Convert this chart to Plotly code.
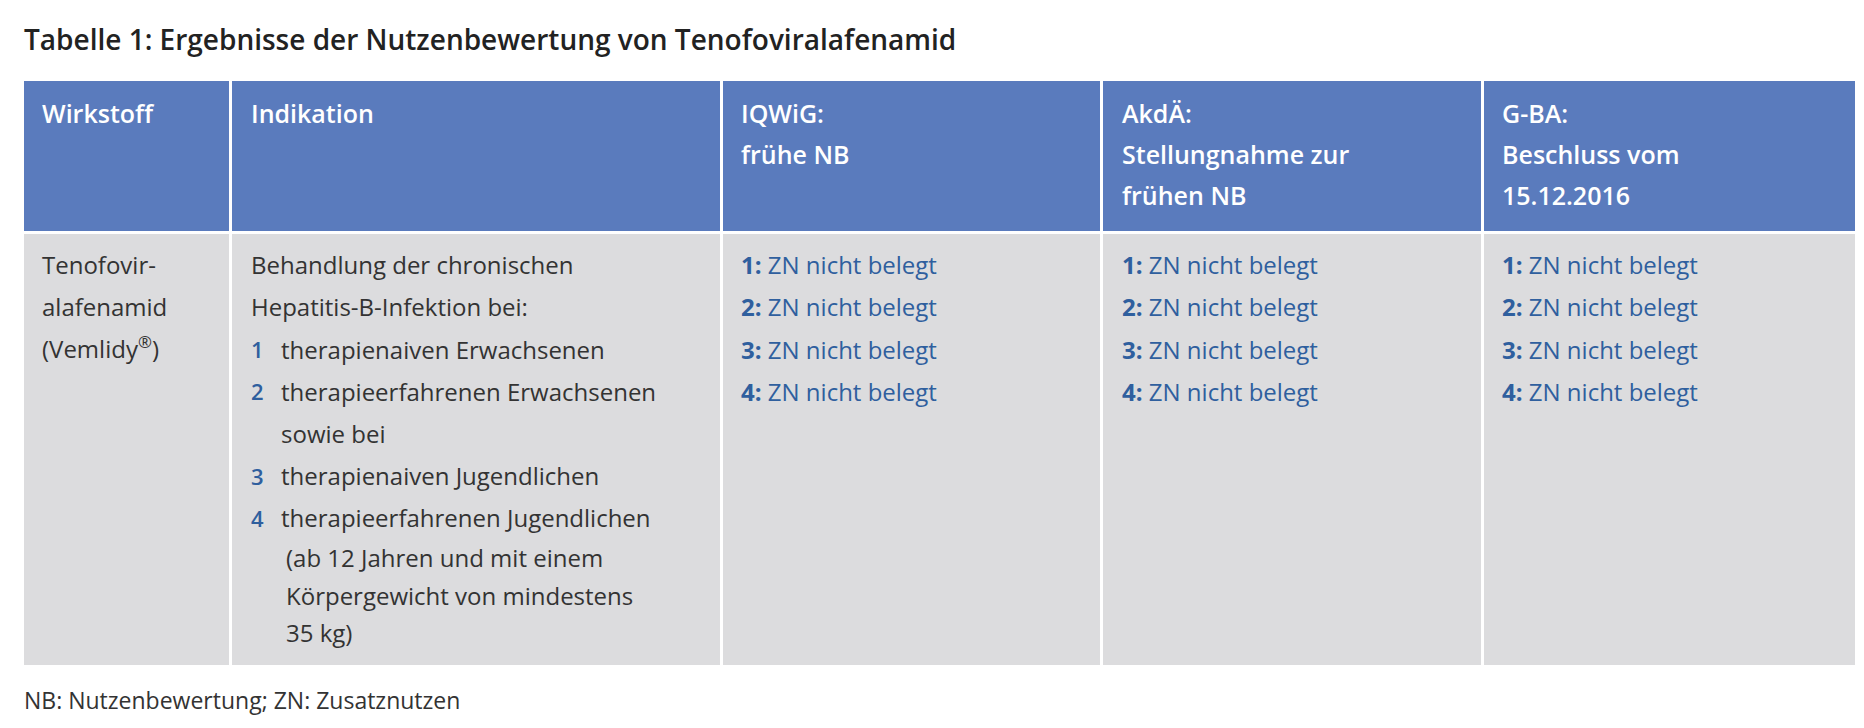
import plotly.graph_objects as go

title = "Tabelle 1: Ergebnisse der Nutzenbewertung von Tenofoviralafenamid"
footnote = "NB: Nutzenbewertung; ZN: Zusatznutzen"
headers = [["Wirkstoff"], ["Indikation"], ["IQWiG:", "frühe NB"],
           ["AkdÄ:", "Stellungnahme zur", "frühen NB"], ["G-BA:", "Beschluss vom", "15.12.2016"]]
wirkstoff = ["Tenofovir-", "alafenamid", "(Vemlidy<sup>®</sup>)"]
indikation_intro = ["Behandlung der chronischen", "Hepatitis-B-Infektion bei:"]
indikation_items = [("1", ["therapienaiven Erwachsenen"]),
                    ("2", ["therapieerfahrenen Erwachsenen", "sowie bei"]),
                    ("3", ["therapienaiven Jugendlichen"]),
                    ("4", ["therapieerfahrenen Jugendlichen", "(ab 12 Jahren und mit einem",
                           "Körpergewicht von mindestens", "35 kg)"])]
ergebnis = ["ZN nicht belegt"] * 4
col_widths = [175, 413, 320, 320, 315]

W, H = 1864, 728
S = 1864 / 1568  # reference display scale
BLUE = "#2f5f9e"
TXT = "#333333"
FONT = "Open Sans"

fig = go.Figure(go.Table(
    columnwidth=col_widths,
    domain=dict(x=[14/W, 1849/W], y=[1-658/H, 1-71/H]),
    header=dict(values=[""]*5, fill_color="#5a7bbd", height=153, line=dict(color="white", width=3)),
    cells=dict(values=[[""]]*5, fill_color="#dcdcde", height=434, line=dict(color="white", width=3)),
))

col_x = [27, 203, 615, 935, 1255]

def txt(x, y, s, size, color=TXT, weight=None):
    f = dict(family=FONT, size=size, color=color)
    if weight:
        f["weight"] = weight
    fig.add_annotation(text=s, x=x*S/W, y=1-y*S/H, xref="paper", yref="paper",
                       xanchor="left", yanchor="middle", showarrow=False, font=f)

# headers
for ci, lines in enumerate(headers):
    for li, l in enumerate(lines):
        txt(col_x[ci], 88 + li*34.5, l, 25, "white", 600)

# body column 1
for li, l in enumerate(wirkstoff):
    txt(col_x[0], 216 + li*35, l, 24)

# indication
y = 216
for l in indikation_intro:
    txt(col_x[1], y, l, 24); y += 35.5
for num, lines in indikation_items:
    txt(col_x[1], y, num, 22, BLUE, 600)
    for k, l in enumerate(lines):
        txt(col_x[1] + (25 if k == 0 or l == "sowie bei" else 29), y, l, 24)
        y += 35.5 if k == 0 or num != "4" else 31.5
        if num == "4" and k == 0:
            y -= 2

# results
for ci in (2, 3, 4):
    for i, t in enumerate(ergebnis):
        txt(col_x[ci], 216 + i*35.5, f"<b>{i+1}:</b> {t}", 24, BLUE)

txt(12, 26, title, 28, "#222222", 600)
txt(12, 582, footnote, 23, TXT)

fig.update_layout(width=W, height=H, margin=dict(l=0, r=0, t=0, b=0), paper_bgcolor="white")
fig.write_html("out.html")
